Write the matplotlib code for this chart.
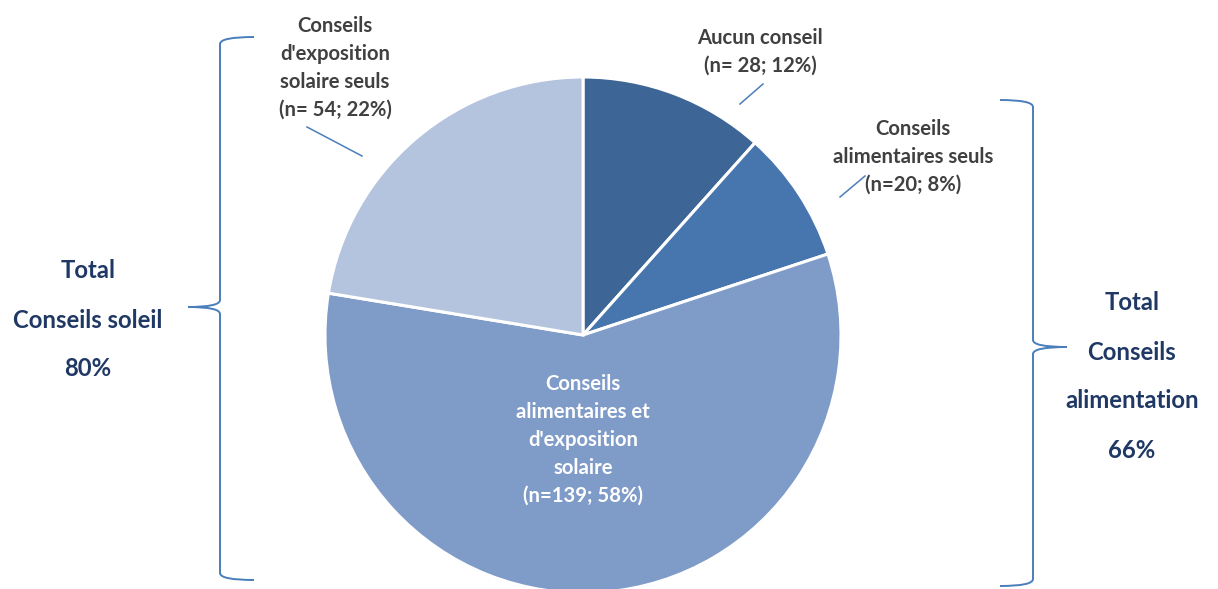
import matplotlib
matplotlib.use('Agg')
import matplotlib.pyplot as plt
from matplotlib.path import Path
from matplotlib.patches import PathPatch

plt.rcParams['font.family'] = ['Lato', 'DejaVu Sans']

# ── data ──────────────────────────────────────────────────────────────────────
categories = ["Aucun conseil", "Conseils alimentaires seuls",
              "Conseils alimentaires et d'exposition solaire",
              "Conseils d'exposition solaire seuls"]
counts = [28, 20, 139, 54]
pcts = [12, 8, 58, 22]
colors = ['#3D6596', '#4775AD', '#7F9BC8', '#B4C3DE']
total_soleil = 80
total_alim = 66

W, H = 1218, 589
fig = plt.figure(figsize=(W / 100, H / 100), dpi=100, facecolor='white')
ax = fig.add_axes([0, 0, 1, 1])

def Y(py):
    return H - py

# ── pie ───────────────────────────────────────────────────────────────────────
ax.pie(counts, colors=colors, startangle=90, counterclock=False,
       center=(583, Y(335)), radius=258,
       wedgeprops=dict(edgecolor='white', linewidth=2.2))

# ── slice labels ──────────────────────────────────────────────────────────────
dark = '#404040'
fs = 14.6
ls = 1.5
ax.text(760, Y(52), f"Aucun conseil\n(n= {counts[0]}; {pcts[0]}%)",
        ha='center', va='center', fontsize=fs, fontweight='bold', color=dark,
        linespacing=ls)
ax.text(913, Y(157), f"Conseils\nalimentaires seuls\n(n={counts[1]}; {pcts[1]}%)",
        ha='center', va='center', fontsize=fs, fontweight='bold', color=dark,
        linespacing=ls)
ax.text(335, Y(68), f"Conseils\nd'exposition\nsolaire seuls\n(n= {counts[3]}; {pcts[3]}%)",
        ha='center', va='center', fontsize=fs, fontweight='bold', color=dark,
        linespacing=ls)
ax.text(583, Y(440), f"Conseils\nalimentaires et\nd'exposition\nsolaire\n(n={counts[2]}; {pcts[2]}%)",
        ha='center', va='center', fontsize=fs, fontweight='bold', color='white',
        linespacing=ls)

# leader lines
lc = '#4A7EBB'
for (x0, y0, x1, y1) in [(740, 104, 763, 84), (840, 197, 865, 176),
                         (307, 127, 362, 156)]:
    ax.plot([x0, x1], [Y(y0), Y(y1)], color=lc, lw=1.1)

# ── braces ────────────────────────────────────────────────────────────────────
def brace(xv, y_top, y_bot, y_tip, arm_x, tip_x):
    r = 7
    pts = [(arm_x, y_top), (xv, y_top), (xv, y_top + r),
           (xv, y_tip - r), (xv, y_tip), (tip_x, y_tip),
           (xv, y_tip), (xv, y_tip + r),
           (xv, y_bot - r), (xv, y_bot), (arm_x, y_bot)]
    codes = [Path.MOVETO, Path.CURVE3, Path.CURVE3,
             Path.LINETO, Path.CURVE3, Path.CURVE3,
             Path.CURVE3, Path.CURVE3,
             Path.LINETO, Path.CURVE3, Path.CURVE3]
    verts = [(x, Y(y)) for x, y in pts]
    ax.add_patch(PathPatch(Path(verts, codes), fill=False, edgecolor=lc, lw=1.4))

brace(220, 37, 580, 307, 254, 188)
brace(1033, 100, 586, 347, 1000, 1067)

# ── totals ────────────────────────────────────────────────────────────────────
navy = '#1F3864'
tfs = 17.2
for py, t in [(270, "Total"), (320, "Conseils soleil"), (368, f"{total_soleil}%")]:
    ax.text(88, Y(py), t, ha='center', va='center', fontsize=tfs,
            fontweight='bold', color=navy)
for py, t in [(302, "Total"), (352, "Conseils"), (400, "alimentation"),
              (450, f"{total_alim}%")]:
    ax.text(1132, Y(py), t, ha='center', va='center', fontsize=tfs,
            fontweight='bold', color=navy)

ax.set_xlim(0, W)
ax.set_ylim(0, H)
ax.set_aspect('equal')
ax.axis('off')

fig.savefig('out.png', dpi=100, facecolor='white')
